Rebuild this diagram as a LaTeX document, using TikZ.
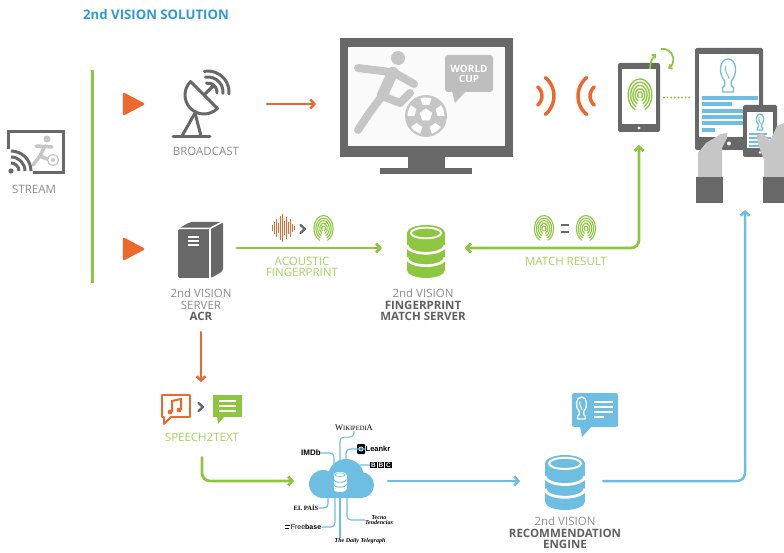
\documentclass[tikz,border=0pt]{standalone}
\usepackage{fontspec}
\setmainfont{Open Sans}
\newfontfamily\logoserif{Liberation Serif}
\newfontfamily\logosans{Liberation Sans}
\usepackage{tikz}
\usetikzlibrary{arrows.meta,positioning,calc}

\definecolor{svOrange}{RGB}{236,104,45}
\definecolor{svGreen}{RGB}{141,198,63}
\definecolor{svLime}{RGB}{165,208,95}
\definecolor{svBlue}{RGB}{110,190,225}
\definecolor{svTitle}{RGB}{48,152,212}
\definecolor{svDark}{RGB}{104,104,104}
\definecolor{svLight}{RGB}{198,198,198}
\definecolor{svBubble}{RGB}{190,190,190}
\definecolor{svText}{RGB}{140,140,140}
\definecolor{svBold}{RGB}{96,96,96}

\tikzset{
  icon/.style={inner sep=0pt,outer sep=0pt},
  title/.style={font=\fontsize{13.2}{14}\selectfont\bfseries,text=svTitle,inner sep=0pt},
  lbl/.style={font=\fontsize{11.5}{11.5}\selectfont,text=svText,align=center,inner sep=0pt},
  glbl/.style={lbl,text=svLime},
  srclbl/.style={inner sep=0pt,text=black,align=center},
  oarr/.style={draw=svOrange,line width=2.5pt,line cap=round,-{Straight Barb[length=4pt,width=9pt]}},
  garr/.style={draw=svGreen,line width=2.8pt,line cap=round,-{Straight Barb[length=4pt,width=9pt]}},
  barr/.style={draw=svBlue,line width=2.5pt,line cap=round,-{Straight Barb[length=4pt,width=9pt]}},
  src/.style={draw=svBlue,line width=1.1pt,rounded corners=4pt},
}

% small drawing helpers
\newcommand\boldlbl[1]{\textbf{\textcolor{svBold}{#1}}}
\newcommand\playmark[2]{\filldraw[svOrange,line width=2.5pt,line join=round]
  ({#1-9},{#2-10}) -- ({#1+10},{#2}) -- ({#1-9},{#2+10}) -- cycle;}
\newcommand\chev[2]{\draw[svDark,line width=2.4pt,line cap=round,line join=round]
  ({#1-2.5},{#2-4}) -- ({#1+2},{#2}) -- ({#1-2.5},{#2+4});}
\newcommand\pent[3]{\fill[white] ({#1},{#2}) +(-90:#3) -- +(-18:#3) -- +(54:#3) -- +(126:#3) -- +(198:#3) -- cycle;}
\newcommand\fprint[4]{% centre x, centre y, half height, colour
  \begin{scope}[shift={(#1,#2)}]
    \foreach \k in {0.2,0.4,0.6,0.8,1}
      \draw[#4,line width=0.085*#3,line cap=round]
        ({115}:{0.74*\k*#3} and {\k*#3}) arc[start angle=115,end angle=425,x radius=0.74*\k*#3,y radius=\k*#3];
  \end{scope}}
\newcommand\trophy[4]{% centre x, top y, height, colour
  \begin{scope}[shift={(#1,#2)},scale=#3/30]
    \draw[#4,line width=1.3pt,line join=round] (-3,20) .. controls (-9,14) and (-8,0) .. (0,0)
      .. controls (8,0) and (9,14) .. (3,20) -- (3,24) -- (5,26) -- (5,30) -- (-5,30) -- (-5,26) -- (-3,24) -- cycle;
    \draw[#4,line width=0.9pt] (-2,6) .. controls (-4,10) and (0,14) .. (1,18);
  \end{scope}}
\newcommand\dbicon[6]{% centre x, top y, width, height, fill, line colour
  \begin{scope}[shift={(#1,#2)}]
    \pgfmathsetmacro\dbrx{#3/2}
    \pgfmathsetmacro\dbry{0.21*#3}
    \pgfmathsetmacro\dbbot{#4-\dbry}
    \pgfmathsetmacro\dbstep{(#4-2*\dbry)/3}
    \fill[#5] (0,\dbry) ellipse[x radius=\dbrx,y radius=\dbry];
    \fill[#5] (-\dbrx,\dbry) rectangle (\dbrx,\dbbot);
    \fill[#5] (0,\dbbot) ellipse[x radius=\dbrx,y radius=\dbry];
    \draw[#6,line width=0.05*#3] (0,\dbry) ellipse[x radius=\dbrx-0.1*#3,y radius=\dbry-0.07*#3];
    \foreach \k in {1,2}
      \draw[#6,line width=0.07*#3] (-\dbrx,\dbry+\k*\dbstep)
        arc[start angle=180,end angle=0,x radius=\dbrx,y radius=\dbry];
  \end{scope}}
\newcommand\bbcbox[1]{\colorbox{black}{\textcolor{white}{#1}}}

\begin{document}
\begin{tikzpicture}[x=1pt,y=-1pt]
  \useasboundingbox (0,0) rectangle (784,553);

  \node[title] (title) at (156,15) {2nd VISION SOLUTION};

  %% -- Placeholders for the icons -------------------------------------
  \node[icon,minimum width=57pt,minimum height=42pt]  (stream) at (35,152) {};
  \node[icon,minimum width=48pt,minimum height=60pt]  (dish)   at (198,104) {};
  \node[icon,minimum width=173pt,minimum height=119pt] (tv)    at (426.5,97.5) {};
  \node[icon,minimum width=42pt,minimum height=69pt]  (phone)  at (639,97.5) {};
  \node[icon,minimum width=68pt,minimum height=102pt] (tablet) at (729,99) {};
  \node[icon,minimum width=89pt,minimum height=155pt] (viewer) at (739.5,125.5) {};
  \node[icon,minimum width=46pt,minimum height=58pt]  (acr)    at (201,248) {};
  \node[icon,minimum width=38pt,minimum height=53pt]  (fpdb)   at (426,248) {};
  \node[icon,minimum width=80pt,minimum height=30pt]  (s2t)    at (202,410) {};
  \node[icon,minimum width=66pt,minimum height=40pt]  (cloud)  at (340,481) {};
  \node[icon,minimum width=40pt,minimum height=55pt]  (recodb) at (565,481) {};

  %% -- Labels -----------------------------------------------------------
  \node[lbl]  (streamlbl) at (34,189)  {STREAM};
  \node[lbl]  (dishlbl)   at (206,151) {BROADCAST};
  \node[lbl]  (acrlbl)    at (201,305) {2nd VISION\\SERVER\\\boldlbl{ACR}};
  \node[lbl]  (fplbl)     at (423,305) {2nd VISION\\\boldlbl{FINGERPRINT}\\\boldlbl{MATCH SERVER}};
  \node[glbl] (acoustic)  at (302,267) {ACOUSTIC\\FINGERPRINT};
  \node[glbl] (matchlbl)  at (566,261) {MATCH RESULT};
  \node[glbl] (s2tlbl)    at (202,437) {SPEECH2TEXT};
  \node[lbl]  (recolbl)   at (565,533) {2nd VISION\\\boldlbl{RECOMMENDATION}\\\boldlbl{ENGINE}};

  %% -- Left bar and play marks ------------------------------------------
  \draw[svGreen,line width=3pt] (92,70) -- (92,283);
  \playmark{133}{104}
  \playmark{133}{249}

  %% -- Stream -----------------------------------------------------------
  \draw[svDark,line width=3pt] (8,149) -- (8,132) -- (63,132) -- (63,173) -- (33,173);
  \fill[svDark] (11,171) circle (2.6);
  \foreach \r in {8,14,20}
    \draw[svDark,line width=3pt] (11,171) ++(-90:\r) arc[start angle=-90,end angle=0,radius=\r];
  \begin{scope}[svLight,line width=3.5pt,line cap=round,line join=round]
    \fill (47,139) circle (3.5);
    \draw (36,146) -- (52,147);
    \draw (45,146) -- (40,156) -- (33,165);
    \draw (40,156) -- (47,159);
  \end{scope}
  \draw[svLight,line width=1.2pt,fill=white] (53,160) circle (5.5);
  \fill[svLight] (53,160) circle (2);

  %% -- Broadcast dish ---------------------------------------------------
  \begin{scope}[svDark,line width=3pt,line join=round,line cap=round]
    \draw (204,95) ++(45:19) arc[start angle=45,end angle=225,radius=19] -- cycle;
    \draw (204,95) -- (212,87);
    \fill (213,86) circle (2.5);
    \foreach \r in {9,15,21}
      \draw (208,92) ++(-100:\r) arc[start angle=-100,end angle=5,radius=\r];
    \draw (195,113) -- (182,136);
    \draw (195,113) -- (201,136);
    \draw (173,137) -- (210,137);
  \end{scope}
  \draw[oarr,shorten <=45pt,shorten >=24pt] (dish.east) -- (dish.east -| tv.west);

  %% -- Television -------------------------------------------------------
  \fill[svDark] (340,38) rectangle (513,157);
  \fill[gray!4] (348,47) rectangle (505,146);
  \fill[svDark] (408,157) rectangle (445,168);
  \fill[svDark] (380,168) rectangle (472,174);
  \begin{scope}[svLight,line width=8pt,line cap=round,line join=round]
    \fill (398,58) circle (7);
    \draw (358,68) -- (390,72);
    \draw (393,72) -- (414,84);
    \draw[line width=11pt] (393,72) -- (382,96);
    \draw (382,96) -- (370,112) -- (358,130);
    \draw (382,96) -- (400,103) -- (410,93);
  \end{scope}
  \fill[svLight] (426,116) circle (21);
  \begin{scope}
    \clip (426,116) circle (18.5);
    \pent{426}{115}{6.5}
    \foreach \a in {-90,-18,54,126,198} {
      \pent{426+16*cos(\a)}{116+16*sin(\a)}{6}
    }
  \end{scope}
  \fill[svBubble,rounded corners=3pt] (445,55) rectangle (493,92);
  \fill[svBubble] (452,91) -- (466,91) -- (455,103) -- cycle;
  \node[font=\fontsize{10}{10}\selectfont\bfseries,text=white,align=center,inner sep=0pt]
    (worldcup) at (469,73.5) {WORLD\\CUP};

  %% -- Audio waves ------------------------------------------------------
  \foreach \r in {12,24} {
    \draw[svOrange,line width=3.5pt,line cap=round] (530,96) ++(-50:\r) arc[start angle=-50,end angle=50,radius=\r];
    \draw[svOrange,line width=3.5pt,line cap=round] (602,96) ++(130:\r) arc[start angle=130,end angle=230,radius=\r];
  }

  %% -- Phone with fingerprint -------------------------------------------
  \fill[svDark,rounded corners=2pt] (618,63) rectangle (660,132);
  \fill[white] (622,69) rectangle (656,124);
  \fill[white] (639,128) circle (1.6);
  \fprint{640}{95}{16}{svGreen}
  \draw[svGreen,line width=1.8pt,-{Straight Barb[length=2.5pt,width=5pt]}] (650,69) to[bend left=20] (656,54);
  \draw[svGreen,line width=1.8pt,-{Straight Barb[length=2.5pt,width=5pt]}] (661,49) arc[start angle=-100,end angle=60,radius=10.5];
  \draw[svGreen,line width=2.2pt,line cap=round,dash pattern=on 0pt off 3.6pt,shorten <=4pt,shorten >=3pt]
    (phone.east) -- (phone.east -| tablet.west);

  %% -- Tablet, phone and hands ------------------------------------------
  \fill[svDark,rounded corners=2pt] (695,48) rectangle (763,150);
  \fill[white] (699,54) rectangle (759,137);
  \fill[white] (729,143.5) circle (2);
  \trophy{728}{59}{33}{svBlue}
  \foreach \y/\l in {98/56,104/30,111/56,117/56,123/42,130/13}
    \draw[svBlue,line width=3.2pt] (702,\y) -- ++(\l,0);
  \fill[svLight] (698,177) -- (698,153) -- (706,143) -- (721,134) -- (727,133) -- (727,138) -- (722,148) -- (722,177) -- cycle;
  \fill[svDark,rounded corners=1.5pt] (743,105) rectangle (777,157);
  \fill[white] (747,112) rectangle (773,148);
  \fill[white] (760,152.5) circle (1.3);
  \trophy{760}{114}{16}{svBlue}
  \foreach \y/\l in {134/18,138/22,142/22,146/14}
    \draw[svBlue,line width=1.6pt] (749,\y) -- ++(\l,0);
  \fill[svLight] (764,177) -- (764,160) -- (758,144) -- (757,135) -- (762,133) -- (770,141) -- (777,126) -- (784,123) -- (784,177) -- cycle;
  \fill[svDark] (696,177) rectangle (723,203);
  \fill[svDark] (763,177) rectangle (784,203);

  %% -- ACR server -------------------------------------------------------
  \fill[svDark,rounded corners=2pt] (178,229) -- (190,222) -- (223,222) -- (223,271) -- (211,278) -- (178,278) -- cycle;
  \draw[white,line width=1.5pt] (178,228.5) -- (210,228.5) -- (223,221.5);
  \draw[white,line width=1.5pt] (210,228.5) -- (210,279);
  \foreach \y in {237,241,245}
    \draw[white,line width=2pt] (188,\y) -- (199,\y);
  \draw[garr,shorten <=13pt,shorten >=25pt] (acr.east) -- (fpdb.west);

  % sound wave > fingerprint
  \foreach \i/\h in {0/3,2/6,4/9,6/5,8/12,10/14,12/7,14/11,16/6,18/9,20/4,22/2}
    \draw[svOrange,line width=1pt] (272+\i,228-\h) -- (272+\i,228+\h);
  \chev{303}{229}
  \fprint{323.5}{228.5}{13}{svGreen}

  %% -- Fingerprint match server -----------------------------------------
  \dbicon{426}{225}{38}{53}{svGreen}{white}
  \fprint{544}{228.5}{13}{svGreen}
  \draw[svDark,line width=2.8pt] (561,225) -- (569,225) (561,232) -- (569,232);
  \fprint{586}{228.5}{13}{svGreen}
  \draw[garr,{Straight Barb[length=4pt,width=9pt]}-{Straight Barb[length=4pt,width=9pt]},rounded corners=8pt,
        shorten <=13pt,shorten >=20pt] (phone.south) |- (fpdb.east);

  %% -- Speech to text ---------------------------------------------------
  \draw[oarr,shorten <=11pt,shorten >=13pt] (acrlbl.south) -- (acrlbl.south |- s2t.north);
  \draw[svOrange,line width=1.8pt,line join=round]
    (162,395) -- (190,395) -- (190,417) -- (171,417) -- (164,424) -- (164,417) -- (162,417) -- cycle;
  \draw[svOrange,line width=2pt] (172,412) -- (172,401) -- (181,399) -- (181,410);
  \fill[svOrange] (170,412) circle (2.4) (179,410) circle (2.4);
  \chev{201}{407}
  \fill[svGreen] (213,395) rectangle (242,417);
  \fill[svGreen] (217,416) -- (225,416) -- (218,424) -- cycle;
  \foreach \y in {401,406,411}
    \draw[white,line width=1.8pt] (219,\y) -- (236,\y);
  \draw[garr,rounded corners=8pt,shorten <=16pt,shorten >=13pt] (s2tlbl.south) |- (cloud.west);

  %% -- Knowledge cloud and its sources ----------------------------------
  \node[srclbl,font=\logoserif\fontsize{8.5}{8.5}\selectfont] (wiki) at (354,428)
    {W{\fontsize{6.5}{6.5}\selectfont IKIPEDI}A};
  \node[srclbl,font=\logosans\fontsize{8}{8}\selectfont\bfseries] (imdb) at (311,453) {IMDb};
  \node[srclbl,font=\logosans\fontsize{7.5}{7.5}\selectfont\bfseries] (leankr) at (378,449) {Leankr};
  \fill[black,rounded corners=1pt] (357,444) rectangle (365,454);
  \draw[white,line width=0.8pt] (361,449) circle (2);
  \node[srclbl,font=\logosans\fontsize{6.5}{6.5}\selectfont\bfseries] (bbc) at (381,465)
    {\setlength\fboxsep{0.9pt}\bbcbox{B}\,\bbcbox{B}\,\bbcbox{C}};
  \node[srclbl,font=\logoserif\fontsize{6.5}{6.5}\selectfont\bfseries] (elpais) at (306,508) {EL PAÍS};
  \node[srclbl,font=\logosans\fontsize{7}{7}\selectfont] (freebase) at (306,527) {Free\textbf{base}};
  \draw[black,line width=0.8pt] (285,525) -- (290,525) (285,528) -- (289,528);
  \node[srclbl,font=\logoserif\fontsize{6}{5.5}\selectfont\itshape\bfseries] (tecno) at (379,520) {Tecno\\Tendencias};
  \node[srclbl,font=\logoserif\fontsize{6}{6}\selectfont\itshape\bfseries] (telegraph) at (360,541) {The Daily Telegraph};

  \draw[src] (wiki.south) -- ++(0,6) -| (cloud.center);
  \draw[src] (imdb.east) -| ([xshift=-6pt]cloud.center);
  \draw[src] (leankr.west) -| ([xshift=6pt]cloud.center);
  \draw[src] (bbc.west) -| ([xshift=14pt]cloud.center);
  \draw[src] (elpais.east) -| ([xshift=-12pt]cloud.center);
  \draw[src] (freebase.east) -| ([xshift=-5pt]cloud.center);
  \draw[src] (tecno.west) -| ([xshift=7pt]cloud.center);
  \draw[src] (cloud.center) -- (cloud.center |- telegraph.north);

  \fill[svBlue] (346,477) circle (18);
  \fill[svBlue] (323,484) circle (14);
  \fill[svBlue] (361,485) circle (13);
  \fill[svBlue] (323,480) rectangle (361,498);
  \dbicon{340}{472}{13}{20}{white}{svBlue}

  %% -- Recommendation engine --------------------------------------------
  \draw[barr,shorten <=15pt,shorten >=25pt] (cloud.east) -- (recodb.west);
  \dbicon{565}{455}{40}{55}{svBlue}{white}
  \fill[svBlue,rounded corners=2pt] (572,393) rectangle (618,427);
  \fill[svBlue] (580,426) -- (592,426) -- (582,437) -- cycle;
  \trophy{581.5}{397}{22}{white}
  \foreach \y/\l in {402/19,407/19,412/19,417/10}
    \draw[white,line width=1.8pt] (594,\y) -- ++(\l,0);
  \draw[barr,rounded corners=8pt,shorten <=18pt,shorten >=7pt] (recodb.east) -| ([xshift=5.5pt]viewer.south);
\end{tikzpicture}
\end{document}
